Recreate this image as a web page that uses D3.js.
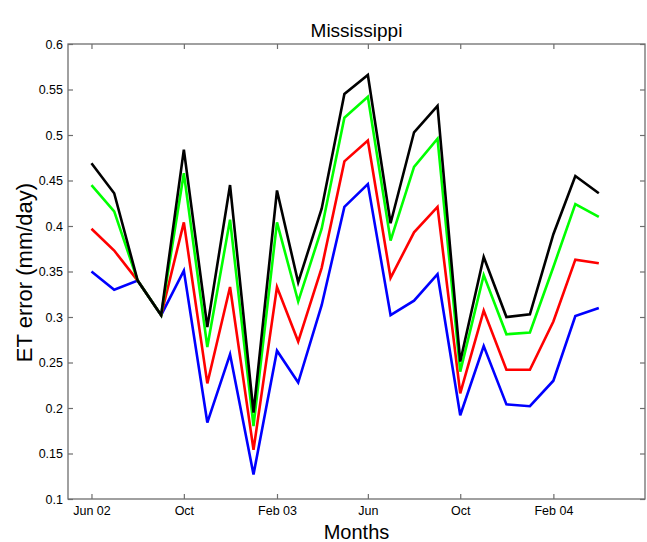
<!DOCTYPE html>
<html>
<head>
<meta charset="utf-8">
<script src="https://cdn.jsdelivr.net/npm/d3@7"></script>
<style>
  body { margin: 0; background: #fff; }
  svg { display: block; font-family: "Liberation Sans", Arial, Helvetica, sans-serif; }
</style>
</head>
<body>
<svg id="chart" width="647" height="542"></svg>
<script>
const months = ["2002-06","2002-07","2002-08","2002-09","2002-10","2002-11","2002-12",
  "2003-01","2003-02","2003-03","2003-04","2003-05","2003-06","2003-07","2003-08",
  "2003-09","2003-10","2003-11","2003-12","2004-01","2004-02","2004-03","2004-04"];
const blackSeries = [0.469,0.436,0.340,0.302,0.484,0.289,0.445,0.195,0.439,0.338,0.419,0.545,0.566,0.403,0.503,0.532,0.251,0.366,0.300,0.303,0.391,0.455,0.436];
const greenSeries = [0.445,0.416,0.340,0.302,0.458,0.267,0.407,0.180,0.404,0.317,0.397,0.519,0.542,0.384,0.465,0.496,0.240,0.346,0.281,0.283,0.355,0.424,0.410];
const redSeries   = [0.397,0.373,0.340,0.302,0.404,0.227,0.333,0.154,0.333,0.273,0.354,0.471,0.494,0.343,0.393,0.421,0.216,0.307,0.242,0.242,0.295,0.363,0.359];
const blueSeries  = [0.350,0.330,0.340,0.302,0.351,0.184,0.259,0.127,0.263,0.228,0.313,0.421,0.446,0.302,0.318,0.347,0.192,0.268,0.204,0.202,0.230,0.301,0.310];
const xDomain = ["2002-05","2004-06"];
const xTickMonths = ["2002-06","2002-10","2003-02","2003-06","2003-10","2004-02"];
const xTickLabels = ["Jun 02","Oct","Feb 03","Jun","Oct","Feb 04"];
const yTicks = [0.1,0.15,0.2,0.25,0.3,0.35,0.4,0.45,0.5,0.55,0.6];
const yTickLabels = ["0.1","0.15","0.2","0.25","0.3","0.35","0.4","0.45","0.5","0.55","0.6"];
const title = "Mississippi";
const xLabel = "Months";
const yLabel = "ET error (mm/day)";

const parse = d3.timeParse("%Y-%m");
const svg = d3.select("#chart");
const L = 68, R = 645, T = 44, B = 499;
const x = d3.scaleTime().domain(xDomain.map(parse)).range([L, R]);
const y = d3.scaleLinear().domain([0.1, 0.6]).range([B, T]);
const axisColor = "#6e6e6e";

svg.append("rect").attr("x", L).attr("y", T).attr("width", R - L).attr("height", B - T)
  .attr("fill", "none").attr("stroke", axisColor).attr("stroke-width", 1.3);

const xt = xTickMonths.map(parse);
const tickLen = 5;
const gb = svg.append("g").attr("transform", `translate(0,${B})`)
  .call(d3.axisBottom(x).tickValues(xt).tickSizeInner(-tickLen).tickSizeOuter(0).tickPadding(7)
    .tickFormat((d, i) => xTickLabels[i]));
const gt = svg.append("g").attr("transform", `translate(0,${T})`)
  .call(d3.axisTop(x).tickValues(xt).tickSizeInner(-tickLen).tickSizeOuter(0).tickFormat(""));
const gl = svg.append("g").attr("transform", `translate(${L},0)`)
  .call(d3.axisLeft(y).tickValues(yTicks).tickSizeInner(-tickLen).tickSizeOuter(0).tickPadding(5)
    .tickFormat((d, i) => yTickLabels[i]));
const gr = svg.append("g").attr("transform", `translate(${R},0)`)
  .call(d3.axisRight(y).tickValues(yTicks).tickSizeInner(-tickLen).tickSizeOuter(0).tickFormat(""));
[gb, gt, gl, gr].forEach(g => {
  g.select(".domain").remove();
  g.selectAll(".tick line").attr("stroke", axisColor).attr("stroke-width", 1.2);
  g.selectAll(".tick text").attr("fill", "#000").style("font-size", "12.5px")
    .style("font-family", '"Liberation Sans", Arial, sans-serif');
});
gb.selectAll(".tick text").attr("dy", "0.71em");

const line = d3.line().x((d, i) => x(parse(months[i]))).y(d => y(d));
const series = [
  {v: blueSeries, c: "#0000ff"},
  {v: redSeries, c: "#ff0000"},
  {v: greenSeries, c: "#00ff00"},
  {v: blackSeries, c: "#000000"}
];
series.forEach(s => {
  svg.append("path").datum(s.v).attr("d", line).attr("fill", "none")
    .attr("stroke", s.c).attr("stroke-width", 2.6).attr("stroke-linejoin", "miter");
});

svg.append("text").attr("x", (L + R) / 2).attr("y", 37).attr("text-anchor", "middle")
  .style("font-size", "19px").text(title);
svg.append("text").attr("x", (L + R) / 2).attr("y", 539).attr("text-anchor", "middle")
  .style("font-size", "20px").text(xLabel);
svg.append("text").attr("transform", `translate(32,${(T + B) / 2 + 1}) rotate(-90)`)
  .attr("text-anchor", "middle").style("font-size", "22px").text(yLabel);
</script>
</body>
</html>
